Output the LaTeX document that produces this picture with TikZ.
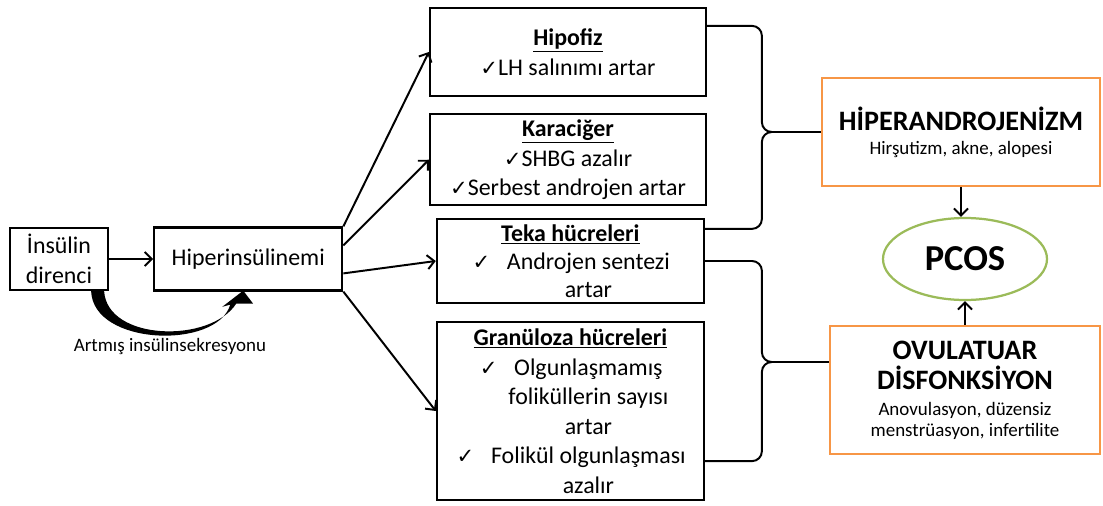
\documentclass[tikz,border=0pt]{standalone}
\usepackage{fontspec}
\setmainfont{Carlito}
\newfontfamily\dejavu{DejaVu Sans}
\usetikzlibrary{arrows,arrows.meta,shapes,positioning,calc}
\definecolor{boxorange}{RGB}{247,150,70}
\definecolor{ovalgreen}{RGB}{155,187,89}
\newcommand{\chk}{\smash{\dejavu\fontsize{15}{15}\selectfont ✓}}
\newcommand{\itm}{\makebox[0pt][r]{\chk\hspace{0.7em}}}
\newcommand{\sh}{\hspace*{0.9cm}}
\newcommand{\subtxt}{\fontsize{13.5}{15}\selectfont\mdseries}

\begin{document}
\begin{tikzpicture}[
    >={Straight Barb[length=5pt,width=10pt]},
    box/.style={rectangle, draw, line width=1.6pt, align=center, inner sep=1pt, font=\fontsize{17}{21}\selectfont},
    organ/.style={box, minimum width=6.9cm},
    cell/.style={box, minimum width=6.675cm, inner sep=0pt, font=\fontsize{17}{20}\selectfont},
    result/.style={rectangle, draw=boxorange, line width=1.6pt, align=center, inner sep=1pt, font=\fontsize{20}{22}\selectfont\bfseries},
    link/.style={->, line width=1.4pt},
    brace/.style={line width=1.4pt, rounded corners=7pt}
]
\useasboundingbox (0,0) rectangle (27.575,-12.65);

% Insulin side
\node[box, minimum width=2.45cm, minimum height=1.55cm] (ins) at (1.475,-6.475) {İnsülin\\direnci};
\node[box, right=1.1cm of ins, minimum width=4.7cm, minimum height=1.575cm] (hyp) {Hiperinsülinemi};
\draw[link] (ins) -- (hyp);

% Curved secretion arrow
\coordinate (o1) at ([xshift=-0.45cm]ins.south east);
\coordinate (o2) at ([xshift=-0.45cm,yshift=-0.325cm]hyp.south);
\coordinate (h1) at ([xshift=-0.65cm,yshift=-0.38cm]hyp.south);
\coordinate (h2) at ([xshift=-0.125cm,yshift=0.025cm]hyp.south);
\coordinate (h3) at ([xshift=0.12cm,yshift=-0.3cm]hyp.south);
\coordinate (i1) at ([xshift=-0.3cm,yshift=-0.3cm]hyp.south);
\coordinate (i2) at ([xshift=-0.125cm]ins.south east);
\fill (o1) .. controls +(0.05,-1.375) and +(-0.325,-1.125) .. (o2) -- (h1) -- (h2) -- (h3) -- (i1)
      .. controls +(-0.65,-1.0) and +(0.075,-1.25) .. (i2) -- cycle;
\node[font=\fontsize{13.5}{15}\selectfont] (secr) at (4.25,-8.675) {Artmış insülinsekresyonu};

% Organs
\node[organ, minimum height=2.2cm] (hipofiz) at (14.2,-1.3) {\underline{\textbf{Hipofiz}}\\\chk LH salınımı artar};
\node[organ, minimum height=2.275cm, below=0.4cm of hipofiz] (karaciger) {\underline{\textbf{Karaciğer}}\\\chk SHBG azalır\\\chk Serbest androjen artar};

% Cells
\node[cell, minimum height=2.1cm] (teka) at (14.26,-6.525) {\underline{\textbf{Teka hücreleri}}\\\sh\itm Androjen sentezi\\\sh artar};
\node[cell, minimum height=4.45cm, font=\fontsize{17}{21}\selectfont] (gran) at (14.26,-10.275) {\underline{\textbf{Granüloza hücreleri}}\\\sh\itm Olgunlaşmamış\\\sh foliküllerin sayısı\\\sh artar\\\sh\itm Folikül olgunlaşması\\\sh azalır};

% Arrows from hyperinsulinemia
\draw[link] (hyp.north east) -- (hipofiz.west);
\draw[link] ([yshift=0.34cm]hyp.east) -- (karaciger.west);
\draw[link] ([yshift=-0.36cm]hyp.east) -- (teka.west);
\draw[link] (hyp.south east) -- (gran.west);

% Results
\node[result, minimum width=6.95cm, minimum height=2.7cm] (hyper) at (24.025,-3.3) {HİPERANDROJENİZM\\[-5pt]{\subtxt Hirşutizm, akne, alopesi}};
\node[ellipse, draw=ovalgreen, line width=1.6pt, minimum width=4.1cm, minimum height=2.05cm, font=\fontsize{26}{30}\selectfont\bfseries] (pcos) at (24.125,-6.475) {PCOS};
\node[result, minimum width=6.75cm, minimum height=3.2cm] (ovu) at (24.125,-9.75) {OVULATUAR\\DİSFONKSİYON\\[-4pt]{\subtxt Anovulasyon, düzensiz}\\[-7pt]{\subtxt menstrüasyon, infertilite}};

% Braces
\draw[brace] ([yshift=-0.475cm]hipofiz.north east) -| ([xshift=-1.475cm]hyper.west) -- (hyper.west);
\draw[brace] ([yshift=-0.275cm]teka.north east) -| ([xshift=-1.475cm]hyper.west) -- (hyper.west);
\draw[brace] (teka.east) -| ([xshift=-1.675cm,yshift=0.7cm]ovu.west) -- ([yshift=0.7cm]ovu.west);
\draw[brace] ([yshift=1cm]gran.south east) -| ([xshift=-1.675cm,yshift=0.7cm]ovu.west) -- ([yshift=0.7cm]ovu.west);

% To PCOS
\draw[link] (hyper.south) -- (hyper.south |- pcos.north);
\draw[link] (ovu.north) -- (ovu.north |- pcos.south);

\end{tikzpicture}
\end{document}
